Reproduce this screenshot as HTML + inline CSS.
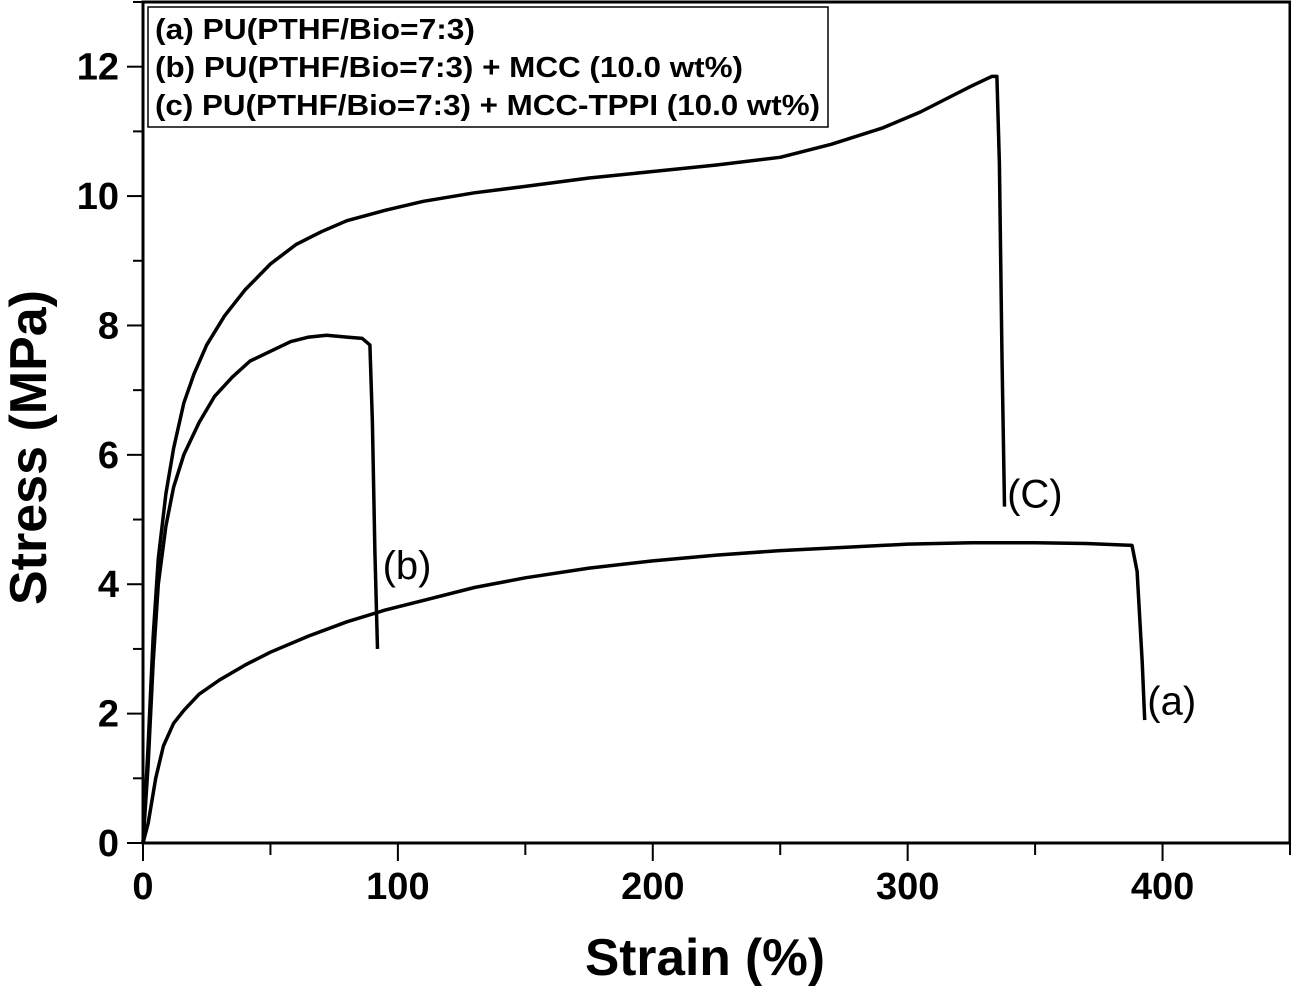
<!DOCTYPE html>
<html><head><meta charset="utf-8"><style>
body{margin:0;background:#fff}
svg{display:block}
.t{font-family:"Liberation Sans Narrow","Liberation Sans",sans-serif;font-weight:bold}
</style></head><body>
<svg id="chart" width="1291" height="988"></svg>
<script>
const xTicks=[0,100,200,300,400];
const yTicks=[0,2,4,6,8,10,12];
const curveA_x=[0,2,5,8,12,16,22,30,40,50,65,80,95,110,130,150,175,200,225,250,275,300,325,350,370,388,390,392,393];
const curveA_y=[0,0.3,1.0,1.5,1.85,2.05,2.3,2.52,2.75,2.95,3.2,3.42,3.6,3.75,3.95,4.1,4.25,4.36,4.45,4.52,4.57,4.62,4.64,4.64,4.63,4.6,4.2,2.8,1.9];
const curveB_x=[0,2,4,6,9,12,16,22,28,35,42,50,58,65,72,80,86,89,90,91,92];
const curveB_y=[0,1.2,2.8,4.0,4.9,5.5,6.0,6.5,6.9,7.2,7.45,7.6,7.75,7.82,7.85,7.82,7.8,7.7,6.5,4.5,3.0];
const curveC_x=[0,2,4,6,9,12,16,20,25,32,40,50,60,70,80,95,110,130,150,175,200,225,250,270,290,305,315,325,333,335,336,337,338];
const curveC_y=[0,1.5,3.2,4.4,5.4,6.1,6.8,7.25,7.7,8.15,8.55,8.95,9.25,9.45,9.62,9.78,9.92,10.05,10.15,10.28,10.38,10.48,10.6,10.8,11.05,11.3,11.5,11.7,11.85,11.85,10.5,7.5,5.2];
const NS='http://www.w3.org/2000/svg';
const svg=document.getElementById('chart');
const X0=143,X1=1290,Y0=843,Y1=2;
const xs=v=>X0+(v/450)*(X1-X0);
const ys=v=>Y0-(v/13)*(Y0-Y1);
function el(tag,attrs,parent){const e=document.createElementNS(NS,tag);for(const k in attrs)e.setAttribute(k,attrs[k]);(parent||svg).appendChild(e);return e;}
const frame=el('rect',{x:X0,y:Y1,width:X1-X0,height:Y0-Y1,fill:'none',stroke:'#000','stroke-width':3});


for(let v=0;v<=450;v+=50){
  const t=el('line',{x1:xs(v),x2:xs(v),y1:Y0,y2:Y0+(v%100===0?18:12),stroke:'#000','stroke-width':2});
  
  
}
xTicks.forEach(v=>{
  const t=el('text',{x:xs(v),y:Y0+56,'text-anchor':'middle','font-size':38,class:'t'});
  t.textContent=v;
  
  
});
for(let v=0;v<=13;v+=1){
  const t=el('line',{x1:X0,x2:X0-(v%2===0?16:10),y1:ys(v),y2:ys(v),stroke:'#000','stroke-width':2});
  
  
}
yTicks.forEach(v=>{
  const t=el('text',{x:X0-24,y:ys(v)+13,'text-anchor':'end','font-size':38,class:'t'});
  t.textContent=v;
  
  
});
const xt=el('text',{x:585,y:975,'font-size':52,class:'t',textLength:240,lengthAdjust:'spacingAndGlyphs'});
xt.textContent='Strain (%)';


const yt=el('text',{x:0,y:0,'font-size':52,class:'t',textLength:315,lengthAdjust:'spacingAndGlyphs',transform:'translate(46,605) rotate(-90)'});
yt.textContent='Stress (MPa)';


function curve(xa,ya,name){
  const p=el('path',{d:xa.map((x,i)=>(i?'L':'M')+xs(x).toFixed(1)+','+ys(ya[i]).toFixed(1)).join(''),fill:'none',stroke:'#000','stroke-width':3.5,'stroke-linejoin':'round'});
  
  
}
curve(curveA_x,curveA_y,'curve-a');
curve(curveB_x,curveB_y,'curve-b');
curve(curveC_x,curveC_y,'curve-c');
function lab(txt,x,y,name){
  const t=el('text',{x:x,y:y,'font-size':40,'font-family':'Liberation Sans, sans-serif'});
  t.textContent=txt;
  
  
}
lab('(b)',xs(94),ys(4.3)+14,'label-b');
lab('(C)',xs(339),ys(5.4)+14,'label-c');
lab('(a)',xs(394),ys(2.2)+14,'label-a');
const lg=el('g',{});


el('rect',{x:148,y:7,width:680,height:120,fill:'#fff',stroke:'#000','stroke-width':1.5},lg);
const lens=[320,588,665];
['(a) PU(PTHF/Bio=7:3)','(b) PU(PTHF/Bio=7:3) + MCC (10.0 wt%)','(c) PU(PTHF/Bio=7:3) + MCC-TPPI (10.0 wt%)'].forEach((s,i)=>{
  const t=el('text',{x:155,y:39+i*38,'font-size':29,class:'t',textLength:lens[i],lengthAdjust:'spacingAndGlyphs'},lg);
  t.textContent=s;
  
  
});
</script>
</body></html>
